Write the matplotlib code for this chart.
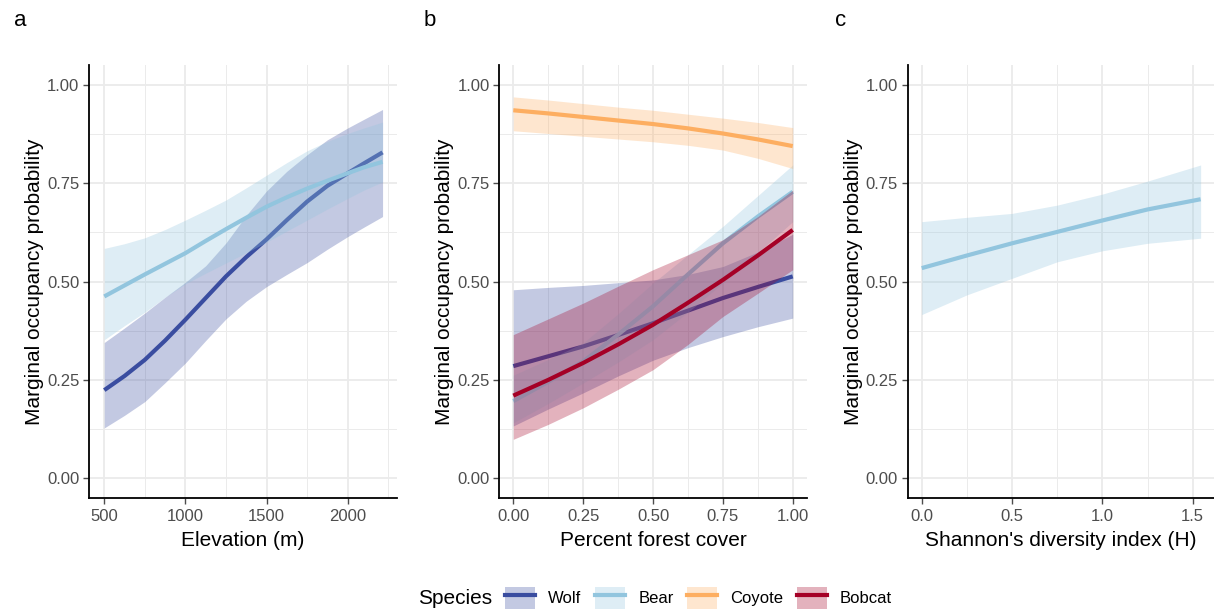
import matplotlib
matplotlib.use("Agg")
import matplotlib.pyplot as plt
from matplotlib.patches import Patch
from matplotlib.lines import Line2D
from matplotlib.ticker import FixedLocator

plt.rcParams['font.family'] = ['Liberation Sans', 'DejaVu Sans']

# ---------------- data ----------------
species = ["Wolf", "Bear", "Coyote", "Bobcat"]
line_colors = {"Wolf": "#3A4DA0", "Bear": "#92C5DE", "Coyote": "#FDAE61", "Bobcat": "#A50026"}

# Panel a: elevation
elev = [500, 625, 750, 875, 1000, 1125, 1250, 1375, 1500, 1625, 1750, 1875, 2000, 2100, 2215]
wolf_a = [0.224, 0.260, 0.301, 0.350, 0.403, 0.458, 0.513, 0.562, 0.607, 0.656, 0.703, 0.743, 0.775, 0.800, 0.828]
wolf_a_lo = [0.128, 0.160, 0.195, 0.243, 0.293, 0.350, 0.405, 0.450, 0.487, 0.518, 0.548, 0.582, 0.614, 0.638, 0.665]
wolf_a_hi = [0.345, 0.382, 0.420, 0.460, 0.498, 0.540, 0.598, 0.668, 0.730, 0.780, 0.822, 0.860, 0.890, 0.912, 0.937]
bear_a = [0.462, 0.490, 0.518, 0.545, 0.572, 0.603, 0.633, 0.662, 0.690, 0.714, 0.736, 0.756, 0.775, 0.790, 0.804]
bear_a_lo = [0.352, 0.388, 0.422, 0.460, 0.494, 0.521, 0.547, 0.573, 0.600, 0.628, 0.656, 0.684, 0.711, 0.732, 0.753]
bear_a_hi = [0.584, 0.596, 0.611, 0.632, 0.656, 0.681, 0.707, 0.738, 0.770, 0.802, 0.832, 0.856, 0.876, 0.890, 0.905]

# Panel b: percent forest cover
forest = [0.0, 0.125, 0.25, 0.375, 0.5, 0.625, 0.75, 0.875, 1.0]
wolf_b = [0.285, 0.310, 0.335, 0.364, 0.394, 0.426, 0.458, 0.486, 0.513]
wolf_b_lo = [0.133, 0.176, 0.217, 0.260, 0.300, 0.332, 0.360, 0.385, 0.407]
wolf_b_hi = [0.479, 0.485, 0.490, 0.497, 0.504, 0.518, 0.538, 0.575, 0.620]
bear_b = [0.196, 0.245, 0.297, 0.365, 0.437, 0.518, 0.597, 0.665, 0.728]
bear_b_lo = [0.141, 0.190, 0.242, 0.295, 0.352, 0.422, 0.496, 0.573, 0.652]
bear_b_hi = [0.262, 0.302, 0.344, 0.418, 0.496, 0.568, 0.640, 0.718, 0.796]
coyote_b = [0.935, 0.927, 0.918, 0.909, 0.900, 0.889, 0.876, 0.861, 0.844]
coyote_b_lo = [0.883, 0.876, 0.869, 0.862, 0.855, 0.846, 0.834, 0.813, 0.787]
coyote_b_hi = [0.969, 0.961, 0.952, 0.943, 0.935, 0.925, 0.915, 0.904, 0.891]
bobcat_b = [0.210, 0.250, 0.293, 0.340, 0.390, 0.446, 0.504, 0.566, 0.631]
bobcat_b_lo = [0.099, 0.137, 0.179, 0.226, 0.276, 0.340, 0.411, 0.470, 0.530]
bobcat_b_hi = [0.365, 0.405, 0.445, 0.488, 0.530, 0.568, 0.606, 0.665, 0.732]

# Panel c: Shannon's diversity index
shannon = [0.0, 0.25, 0.5, 0.75, 1.0, 1.25, 1.544]
bear_c = [0.534, 0.566, 0.597, 0.626, 0.655, 0.683, 0.709]
bear_c_lo = [0.416, 0.466, 0.508, 0.550, 0.578, 0.597, 0.610]
bear_c_hi = [0.652, 0.663, 0.673, 0.694, 0.722, 0.755, 0.796]

panel_series = [
    (elev, [("Wolf", wolf_a, wolf_a_lo, wolf_a_hi), ("Bear", bear_a, bear_a_lo, bear_a_hi)]),
    (forest, [("Wolf", wolf_b, wolf_b_lo, wolf_b_hi), ("Bear", bear_b, bear_b_lo, bear_b_hi),
              ("Coyote", coyote_b, coyote_b_lo, coyote_b_hi), ("Bobcat", bobcat_b, bobcat_b_lo, bobcat_b_hi)]),
    (shannon, [("Bear", bear_c, bear_c_lo, bear_c_hi)]),
]
xlabels = ["Elevation (m)", "Percent forest cover", "Shannon's diversity index (H)"]
panel_letters = ["a", "b", "c"]
xlims = [(406, 2304), (-0.05, 1.05), (-0.0775, 1.618)]
xmajor = [[500, 1000, 1500, 2000], [0, 0.25, 0.5, 0.75, 1.0], [0, 0.5, 1.0, 1.5]]
xmajor_labels = [["500", "1000", "1500", "2000"], ["0.00", "0.25", "0.50", "0.75", "1.00"],
                 ["0.0", "0.5", "1.0", "1.5"]]
xminor = [[750, 1250, 1750, 2250], [0.125, 0.375, 0.625, 0.875], [0.25, 0.75, 1.25]]
yticks = [0, 0.25, 0.5, 0.75, 1.0]
ytick_labels = ["0.00", "0.25", "0.50", "0.75", "1.00"]

# ---------------- figure ----------------
W, H = 1214, 609
fig = plt.figure(figsize=(W / 100, H / 100), dpi=100)

lefts_px = [89, 499.3, 907.7]
rights_px = [397, 806.7, 1214]
top_px, bot_px = 65, 498
label_x_px = [14, 424, 835]

grid_col = "#EBEBEB"
tick_col = "#4D4D4D"

for i in range(3):
    ax = fig.add_axes([lefts_px[i] / W, 1 - bot_px / H, (rights_px[i] - lefts_px[i]) / W, (bot_px - top_px) / H])
    xs, series = panel_series[i]
    for name, mid, lo, hi in series:
        c = line_colors[name]
        ax.fill_between(xs, lo, hi, color=c, alpha=0.3, linewidth=0, zorder=2)
        ax.plot(xs, mid, color=c, lw=3.0, solid_capstyle='butt', solid_joinstyle='round', zorder=2)
    ax.set_xlim(*xlims[i])
    ax.set_ylim(-0.05, 1.05)
    ax.xaxis.set_major_locator(FixedLocator(xmajor[i]))
    ax.set_xticklabels(xmajor_labels[i])
    ax.xaxis.set_minor_locator(FixedLocator(xminor[i]))
    ax.yaxis.set_major_locator(FixedLocator(yticks))
    ax.set_yticklabels(ytick_labels)
    ax.yaxis.set_minor_locator(FixedLocator([0.125, 0.375, 0.625, 0.875]))
    ax.grid(True, which='major', color=grid_col, lw=1.3, zorder=0)
    ax.grid(True, which='minor', color=grid_col, lw=0.7, zorder=0)
    ax.set_axisbelow(True)
    for s in ['top', 'right']:
        ax.spines[s].set_visible(False)
    for s in ['left', 'bottom']:
        ax.spines[s].set_color('black')
        ax.spines[s].set_linewidth(1.3)
    ax.tick_params(which='major', length=4, width=1.0, color=tick_col, labelcolor=tick_col,
                   labelsize=12, pad=3)
    ax.tick_params(axis='x', which='major', pad=4)
    ax.tick_params(which='minor', length=0)
    ax.set_xlabel(xlabels[i], fontsize=15, color='black', labelpad=5)
    ax.set_ylabel("Marginal occupancy probability", fontsize=15, color='black', labelpad=2)
    fig.text(label_x_px[i] / W, 1 - 20 / H, panel_letters[i], fontsize=16, ha='left', va='center')

# ---------------- legend ----------------
handles = []
for name in species:
    c = line_colors[name]
    handles.append((Patch(facecolor=c, alpha=0.3, edgecolor='none'),
                    Line2D([], [], color=c, lw=3.0)))
fig.text(418 / W, 1 - 598 / H, "Species", fontsize=15, ha='left', va='center')
fig.legend(handles, species, loc='center left', bbox_to_anchor=(505 / W, 1 - 598 / H),
           ncol=4, frameon=False, fontsize=12, handlelength=1.8, handleheight=1.6,
           handletextpad=0.8, columnspacing=0.8, borderpad=0, borderaxespad=0)

fig.savefig("out.png", dpi=100)
